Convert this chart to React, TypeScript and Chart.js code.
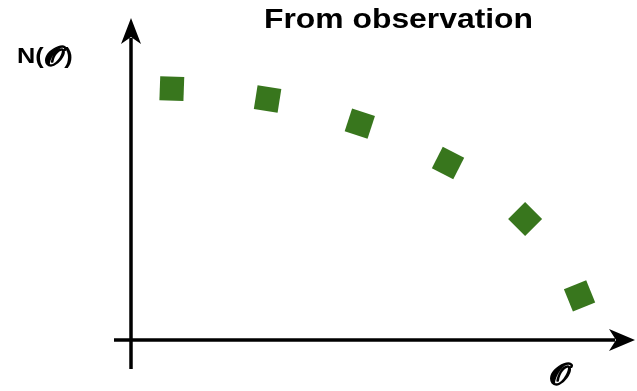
import React, { useEffect, useRef } from "react";
import { Chart, registerables } from "chart.js";

Chart.register(...registerables);

const xValues = [0.81, 2.71, 4.54, 6.29, 7.82, 8.9];
const yValues = [7.98, 7.65, 6.87, 5.62, 3.84, 1.4];
const rotations = [2, 9, 18, 27, 45, -22];
const titleText = "From observation";
const yLabelStart = "N(";
const yLabelEnd = ")";
const scriptO = "\u{1D4DE}";

function stretchedText(ctx: any, text: string, x: number, y: number, sx: number) {
  ctx.save();
  ctx.translate(x, y);
  ctx.scale(sx, 1);
  ctx.fillText(text, 0, 0);
  ctx.restore();
  return ctx.measureText(text).width * sx;
}

function scriptText(ctx: any, text: string, x: number, y: number, size: number, sx: number) {
  ctx.save();
  ctx.font = `${size}px 'DejaVu Sans', 'DejaVu Serif', serif`;
  ctx.translate(x, y);
  ctx.scale(sx, 1);
  ctx.lineWidth = 1.3;
  ctx.lineJoin = "round";
  ctx.strokeText(text, 0, 0);
  ctx.fillText(text, 0, 0);
  const w = ctx.measureText(text).width * sx;
  ctx.restore();
  return w;
}

const axesPlugin = {
  id: "arrowAxes",
  afterDraw(chart: any) {
    const ctx = chart.ctx;
    const xs = chart.scales.x;
    const ys = chart.scales.y;
    const x0 = xs.getPixelForValue(0);
    const y0 = ys.getPixelForValue(0);
    const area = chart.chartArea;
    ctx.save();
    ctx.strokeStyle = "#000";
    ctx.fillStyle = "#000";
    ctx.lineWidth = 3.5;
    // y axis
    const yTip = area.top - 7;
    ctx.beginPath();
    ctx.moveTo(x0, y0 + 29);
    ctx.lineTo(x0, yTip + 20);
    ctx.stroke();
    ctx.beginPath();
    ctx.moveTo(x0, yTip);
    ctx.lineTo(x0 + 10, yTip + 26);
    ctx.lineTo(x0, yTip + 19);
    ctx.lineTo(x0 - 10, yTip + 26);
    ctx.closePath();
    ctx.fill();
    // x axis
    const xTip = area.right;
    ctx.beginPath();
    ctx.moveTo(x0 - 17, y0);
    ctx.lineTo(xTip - 20, y0);
    ctx.stroke();
    ctx.beginPath();
    ctx.moveTo(xTip, y0);
    ctx.lineTo(xTip - 26, y0 - 11);
    ctx.lineTo(xTip - 19, y0);
    ctx.lineTo(xTip - 26, y0 + 11);
    ctx.closePath();
    ctx.fill();
    // texts
    ctx.textBaseline = "alphabetic";
    ctx.textAlign = "left";
    ctx.font = "bold 28px 'Liberation Sans', Arial, sans-serif";
    const tw = ctx.measureText(titleText).width;
    stretchedText(ctx, titleText, 264, 28, 269 / tw);
    ctx.font = "bold 22px 'Liberation Sans', Arial, sans-serif";
    let cx = 17;
    cx += stretchedText(ctx, yLabelStart, cx, 63, 1.15);
    cx += scriptText(ctx, scriptO, cx + 1, 65, 27, 1.15) + 1;
    ctx.font = "bold 22px 'Liberation Sans', Arial, sans-serif";
    stretchedText(ctx, yLabelEnd, cx, 63, 1.15);
    scriptText(ctx, scriptO, 550, 384, 30, 1.1);
    ctx.restore();
  },
};

export default function App() {
  const ref = useRef<HTMLCanvasElement | null>(null);
  useEffect(() => {
    if (!ref.current) return;
    const chart = new Chart(ref.current, {
      type: "scatter",
      data: {
        datasets: [
          {
            data: xValues.map((x, i) => ({ x, y: yValues[i] })),
            pointStyle: "rect",
            pointRadius: 17,
            pointHoverRadius: 17,
            pointRotation: rotations,
            pointBackgroundColor: "#38761d",
            pointBorderWidth: 0,
            borderWidth: 0,
            backgroundColor: "#38761d",
            clip: false,
          } as any,
        ],
      },
      options: {
        responsive: false,
        animation: false,
        layout: { autoPadding: false, padding: { left: 131, right: 2, top: 25, bottom: 51 } },
        scales: {
          x: { type: "linear", min: 0, max: 10, display: false },
          y: { type: "linear", min: 0, max: 10, display: false },
        },
        plugins: { legend: { display: false }, tooltip: { enabled: false }, title: { display: false } },
      },
      plugins: [axesPlugin],
    });
    return () => chart.destroy();
  }, []);
  return (
    <div style={{ position: "fixed", left: 0, top: 0, width: 637, height: 391, background: "#fff" }}>
      <canvas ref={ref} width={637} height={391} style={{ display: "block" }} />
    </div>
  );
}
